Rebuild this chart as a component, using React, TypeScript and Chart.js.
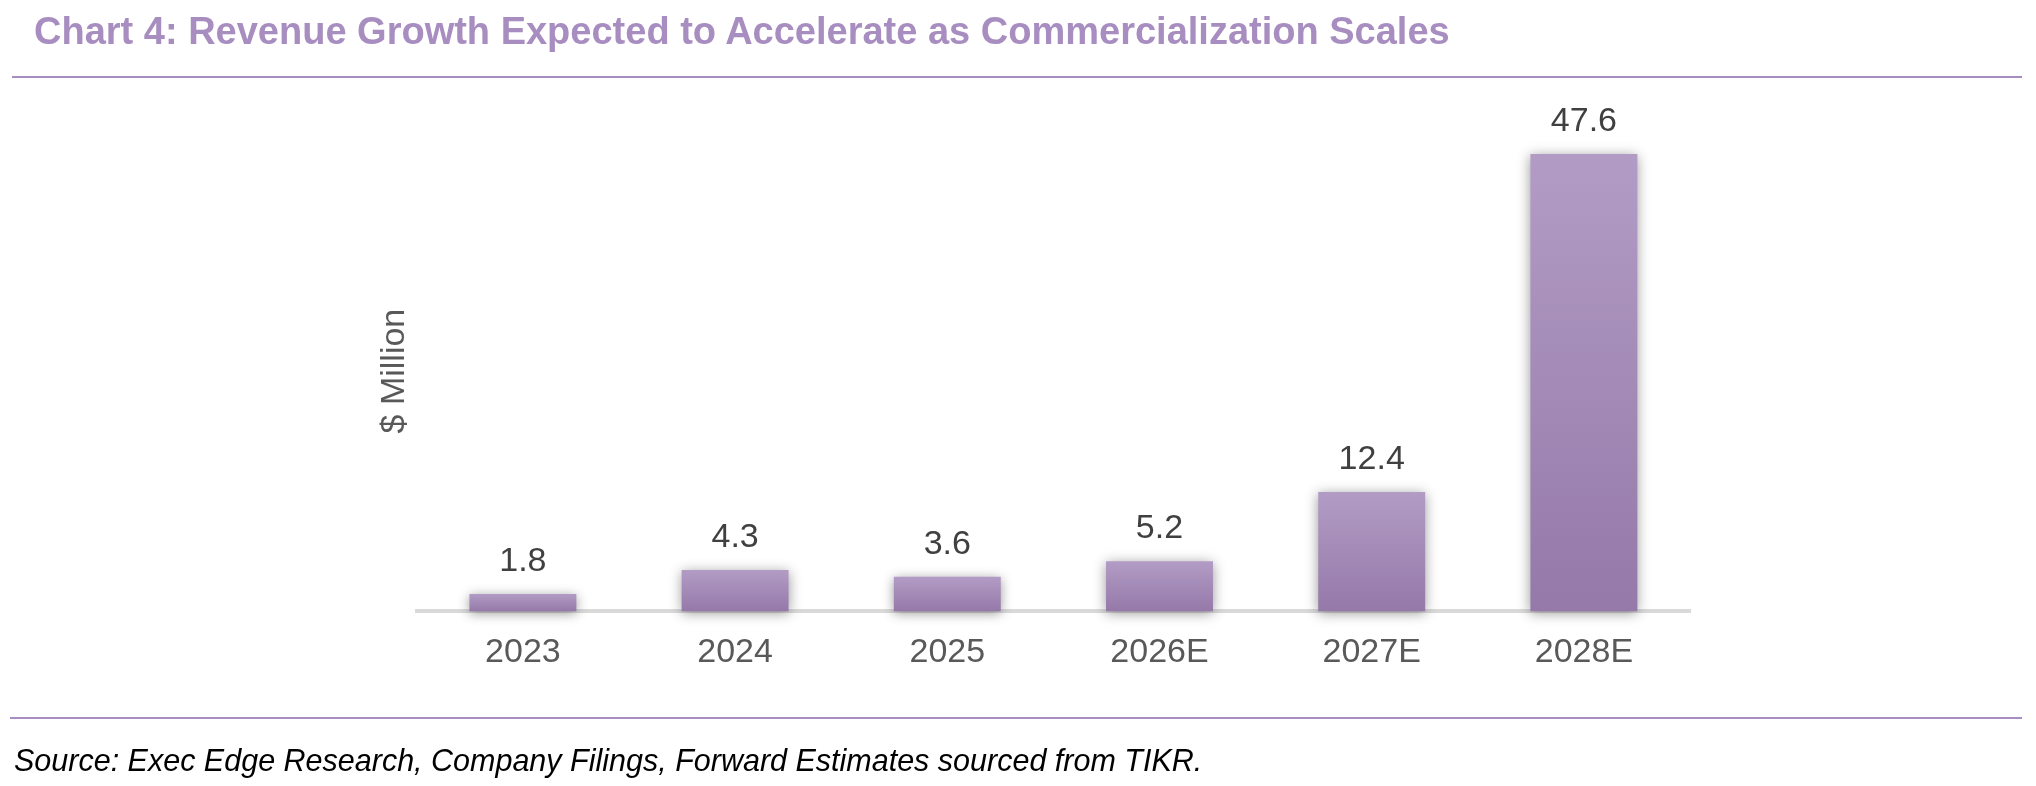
import React, { useEffect, useRef } from "react";
import { Chart, registerables } from "chart.js";

Chart.register(...registerables);

const categories = ["2023", "2024", "2025", "2026E", "2027E", "2028E"];
const revenue = [1.8, 4.3, 3.6, 5.2, 12.4, 47.6];
const yAxisTitle = "$ Million";
const chartTitle = "Chart 4: Revenue Growth Expected to Accelerate as Commercialization Scales";
const sourceNote = "Source: Exec Edge Research, Company Filings, Forward Estimates sourced from TIKR.";

const FONT = '"Liberation Sans", Arial, Helvetica, sans-serif';
const PURPLE = "#a88dc0";

// soft drop shadow under the bars + value labels on top
const barDecor = {
  id: "barDecor",
  beforeDatasetsDraw(chart: any) {
    const ctx = chart.ctx;
    ctx.save();
    ctx.shadowColor = "rgba(0,0,0,0.4)";
    ctx.shadowBlur = 12;
    ctx.shadowOffsetX = 0;
    ctx.shadowOffsetY = 2;
  },
  afterDatasetsDraw(chart: any) {
    const ctx = chart.ctx;
    ctx.restore();
    const meta = chart.getDatasetMeta(0);
    ctx.save();
    ctx.font = `34px ${FONT}`;
    ctx.fillStyle = "#404040";
    ctx.textAlign = "center";
    ctx.textBaseline = "alphabetic";
    meta.data.forEach((bar: any, i: number) => {
      ctx.fillText(revenue[i].toFixed(1), bar.x, bar.y - 23);
    });
    ctx.restore();
  },
};

const RevenueChart: React.FC = () => {
  const chartRef = useRef<HTMLCanvasElement | null>(null);
  const chartInstance = useRef<Chart | null>(null);

  useEffect(() => {
    if (!chartRef.current) return;
    const ctx = chartRef.current.getContext("2d");
    if (!ctx) return;

    chartInstance.current = new Chart(ctx, {
      type: "bar",
      data: {
        labels: categories,
        datasets: [
          {
            data: revenue,
            backgroundColor: (c: any) => {
              const chart = c.chart;
              if (!chart.chartArea || c.type !== "data") return "#a68cba";
              const y = chart.scales.y;
              const top = y.getPixelForValue(c.parsed.y);
              const base = y.getPixelForValue(0);
              const g = chart.ctx.createLinearGradient(0, top, 0, base);
              g.addColorStop(0, "#b29cc5");
              g.addColorStop(1, "#9579a9");
              return g;
            },
            borderWidth: 0,
            barPercentage: 0.504,
            categoryPercentage: 1,
            clip: 20,
          } as any,
        ],
      },
      options: {
        animation: false,
        responsive: true,
        maintainAspectRatio: false,
        layout: { padding: { left: 370, right: 346, top: 131, bottom: 92 } },
        plugins: {
          legend: { display: false },
          tooltip: { enabled: false },
        },
        scales: {
          x: {
            grid: { display: false, drawTicks: false },
            border: { display: true, color: "#d9d9d9", width: 4 },
            ticks: {
              color: "#595959",
              font: { family: FONT, size: 34 },
              padding: 21,
              maxRotation: 0,
            },
          },
          y: {
            min: 0,
            max: 50,
            grid: { display: false, drawTicks: false },
            border: { display: false },
            ticks: { display: false },
            title: {
              display: true,
              text: yAxisTitle,
              color: "#595959",
              font: { family: FONT, size: 34 },
              padding: { top: 4, bottom: 2 },
            },
          },
        },
      },
      plugins: [barDecor],
    });

    return () => {
      if (chartInstance.current) {
        chartInstance.current.destroy();
        chartInstance.current = null;
      }
    };
  }, []);

  return <canvas ref={chartRef} />;
};

const App: React.FC = () => {
  return (
    <div
      style={{
        position: "absolute",
        left: 0,
        top: 0,
        width: 2036,
        height: 786,
        background: "#ffffff",
        fontFamily: FONT,
        overflow: "hidden",
      }}
    >
      <div style={{ position: "absolute", left: 0, top: 0, width: 2036, height: 786 }}>
        <RevenueChart />
      </div>
      <div
        style={{
          position: "absolute",
          left: 34,
          top: 12,
          fontSize: 38,
          lineHeight: "38px",
          fontWeight: "bold",
          color: PURPLE,
          whiteSpace: "nowrap",
        }}
      >
        {chartTitle}
      </div>
      <div style={{ position: "absolute", left: 12, top: 76, width: 2010, height: 2, background: PURPLE }} />
      <div style={{ position: "absolute", left: 10, top: 717, width: 2012, height: 2, background: PURPLE }} />
      <div
        style={{
          position: "absolute",
          left: 14,
          top: 745,
          fontSize: 30.5,
          lineHeight: "30px",
          fontStyle: "italic",
          color: "#000000",
          whiteSpace: "nowrap",
        }}
      >
        {sourceNote}
      </div>
    </div>
  );
};

export default App;
